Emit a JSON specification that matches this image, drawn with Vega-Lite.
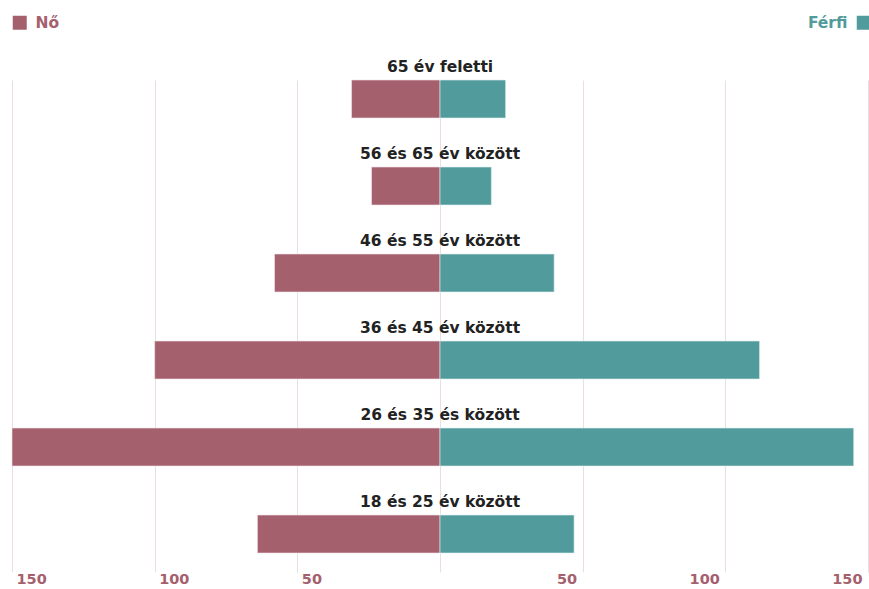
{
  "$schema": "https://vega.github.io/schema/vega-lite/v6.json",
  "autosize": "none",
  "width": 856,
  "height": 492,
  "padding": {"left": 12, "top": 80, "right": 1, "bottom": 17},
  "background": "white",
  "config": {"view": {"stroke": null}, "font": "DejaVu Sans"},
  "data": {
    "values": [
      {"age": "65 év feletti", "gender": "Nő", "value": 31},
      {"age": "65 év feletti", "gender": "Férfi", "value": 23},
      {"age": "56 és 65 év között", "gender": "Nő", "value": 24},
      {"age": "56 és 65 év között", "gender": "Férfi", "value": 18},
      {"age": "46 és 55 év között", "gender": "Nő", "value": 58},
      {"age": "46 és 55 év között", "gender": "Férfi", "value": 40},
      {"age": "36 és 45 év között", "gender": "Nő", "value": 100},
      {"age": "36 és 45 év között", "gender": "Férfi", "value": 112},
      {"age": "26 és 35 és között", "gender": "Nő", "value": 150},
      {"age": "26 és 35 és között", "gender": "Férfi", "value": 145},
      {"age": "18 és 25 év között", "gender": "Nő", "value": 64},
      {"age": "18 és 25 év között", "gender": "Férfi", "value": 47}
    ]
  },
  "transform": [
    {"calculate": "datum.gender === 'Nő' ? -datum.value : datum.value", "as": "signed"}
  ],
  "encoding": {
    "y": {
      "field": "age",
      "type": "nominal",
      "sort": ["65 év feletti", "56 és 65 év között", "46 és 55 év között", "36 és 45 év között", "26 és 35 és között", "18 és 25 év között"],
      "scale": {"paddingInner": 0.5632, "paddingOuter": 0.109, "align": 0},
      "axis": null
    }
  },
  "layer": [
    {
      "transform": [{"filter": "datum.gender === 'Nő'"}],
      "mark": {"type": "bar", "stroke": "#f3e6ea", "strokeWidth": 0.6},
      "encoding": {
        "x": {
          "field": "signed",
          "type": "quantitative",
          "scale": {"domain": [-150, 150], "nice": false},
          "axis": {
            "values": [-150, -100, -50, 0, 50, 100, 150],
            "grid": true,
            "gridColor": "#ecdde3",
            "gridWidth": 1,
            "domain": false,
            "ticks": false,
            "title": null,
            "labelExpr": "datum.value === 0 ? '' : format(abs(datum.value), 'd')",
            "labelAlign": {"condition": {"test": "datum.value < 0", "value": "left"}, "value": "right"},
            "labelOffset": {"condition": {"test": "datum.value < 0", "value": 4}, "value": -6},
            "labelBaseline": "top",
            "labelPadding": 0,
            "labelFont": "DejaVu Sans",
            "labelFontSize": 14.5,
            "labelFontWeight": "bold",
            "labelColor": "#a5606e",
            "labelFlush": false,
            "labelOverlap": false
          }
        },
        "fill": {
          "field": "gender",
          "type": "nominal",
          "scale": {"domain": ["Nő"], "range": ["#a5606e"]},
          "legend": {
            "orient": "none",
            "legendX": 0,
            "legendY": -65,
            "title": null,
            "padding": 0,
            "symbolType": "square",
            "symbolSize": 196,
            "symbolStrokeWidth": 0,
            "labelOffset": 8,
            "labelFont": "DejaVu Sans",
            "labelFontSize": 15.5,
            "labelFontWeight": "bold",
            "labelColor": "#a5606e"
          }
        }
      }
    },
    {
      "transform": [{"filter": "datum.gender === 'Férfi'"}],
      "mark": {"type": "bar", "stroke": "#e3f0f0", "strokeWidth": 0.6},
      "encoding": {
        "x": {"field": "signed", "type": "quantitative"},
        "color": {
          "field": "gender",
          "type": "nominal",
          "scale": {"domain": ["Férfi"], "range": ["#529b9c"]},
          "legend": {
            "orient": "none",
            "legendX": 844,
            "legendY": -65,
            "title": null,
            "padding": 0,
            "symbolType": "square",
            "symbolSize": 196,
            "symbolStrokeWidth": 0,
            "labelAlign": "right",
            "labelOffset": -24,
            "labelFont": "DejaVu Sans",
            "labelFontSize": 15.5,
            "labelFontWeight": "bold",
            "labelColor": "#529b9c"
          }
        }
      }
    },
    {
      "transform": [{"filter": "datum.gender === 'Nő'"}],
      "mark": {"type": "text", "baseline": "alphabetic", "align": "center", "dy": -8, "font": "DejaVu Sans", "fontSize": 15.5, "fontWeight": "bold", "color": "#222222"},
      "encoding": {
        "y": {"field": "age", "type": "nominal", "bandPosition": 0,
          "sort": ["65 év feletti", "56 és 65 év között", "46 és 55 év között", "36 és 45 év között", "26 és 35 és között", "18 és 25 év között"]},
        "x": {"datum": 0, "type": "quantitative"},
        "text": {"field": "age"}
      }
    }
  ]
}
